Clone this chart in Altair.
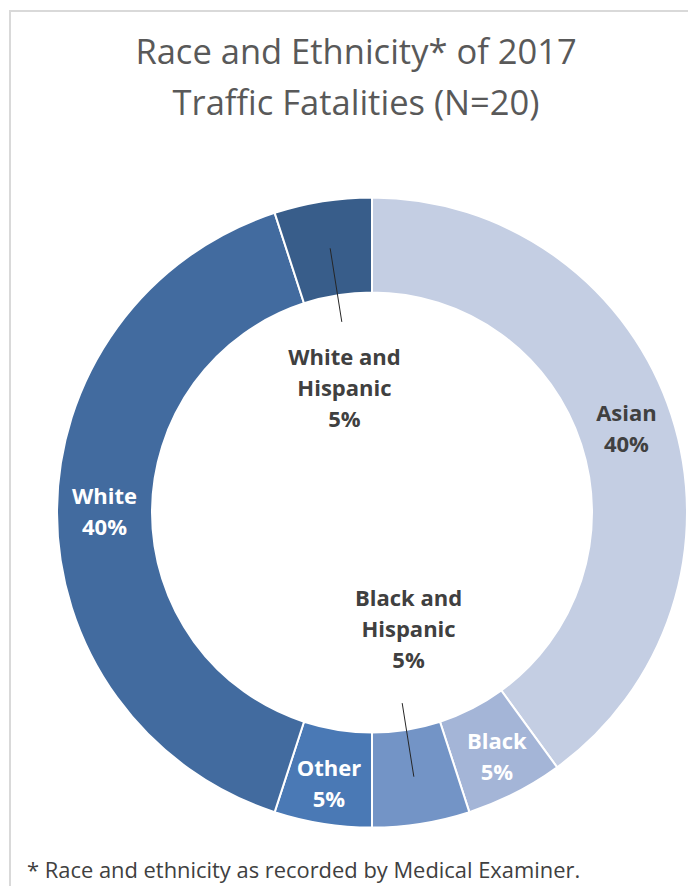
import altair as alt
import pandas as pd

# ---- data ----
races = ["Asian", "Black", "Black and Hispanic", "Other", "White", "White and Hispanic"]
counts = [8, 1, 1, 1, 8, 1]
colors = ["#c4cee3", "#a4b5d7", "#7394c6", "#4a79b5", "#426b9f", "#385d8a"]
title_lines = ["Race and Ethnicity* of 2017", "Traffic Fatalities (N=20)"]
footnote = "* Race and ethnicity as recorded by Medical Examiner."

df = pd.DataFrame({"race": races, "count": counts, "idx": list(range(len(races)))})

FONT = "Open Sans"
CX, CY = 364, 504.5
R_IN, R_OUT = 220, 315
LH = 31

base = alt.Chart(df).transform_joinaggregate(total="sum(count)").transform_calculate(
    label="split(replace(datum.race, ' and ', ' and|') + '|' + format(datum.count / datum.total, '.0%'), '|')"
)
theta = alt.Theta("count:Q", stack=True)
order = alt.Order("idx:Q", sort="ascending")

arcs = base.mark_arc(innerRadius=R_IN, outerRadius=R_OUT, stroke="white", strokeWidth=2).encode(
    theta=theta,
    order=order,
    color=alt.Color("race:N", scale=alt.Scale(domain=races, range=colors), legend=None),
    x=alt.value(CX),
    y=alt.value(CY),
)


def label_layer(names, radius, color, nlines, dx=0, dy=0):
    test = " || ".join(f"datum.race === '{n}'" for n in names)
    return base.transform_calculate(txt=f"({test}) ? datum.label : ''").mark_text(
        radius=radius, font=FONT, fontSize=22, fontWeight="bold", color=color,
        lineHeight=LH, baseline="middle", align="center",
        dx=dx, dy=dy - (nlines - 1) * LH / 2,
    ).encode(
        theta=theta, order=order, detail="race:N",
        text=alt.Text("txt:N"), x=alt.value(CX), y=alt.value(CY),
    )


lab_asian = label_layer(["Asian"], 267.5, "#404040", 2)
lab_white = label_layer(["White"], 267.5, "white", 2)
lab_small = label_layer(["Black", "Other"], 275, "white", 2)
lab_wh = label_layer(["White and Hispanic"], 125, "#404040", 3, dx=-8)
lab_bh = label_layer(["Black and Hispanic"], 125, "#404040", 3, dx=17, dy=-6)

R1, R2 = 193, 267.5
leaders = base.transform_window(
    cum="sum(count)", sort=[alt.SortField("idx", order="ascending")]
).transform_filter(
    "datum.race === 'White and Hispanic' || datum.race === 'Black and Hispanic'"
).transform_calculate(
    mid="2 * PI * (datum.cum - datum.count / 2) / datum.total"
).transform_calculate(
    lx1=f"{CX} + {R1} * sin(datum.mid)",
    ly1=f"{CY} - {R1} * cos(datum.mid)",
    lx2=f"{CX} + {R2} * sin(datum.mid)",
    ly2=f"{CY} - {R2} * cos(datum.mid)",
).mark_rule(color="#262626", strokeWidth=1).encode(
    x=alt.X("lx1:Q", scale=None, axis=None),
    y=alt.Y("ly1:Q", scale=None, axis=None),
    x2="lx2:Q",
    y2="ly2:Q",
)

one = alt.Data(values=[{}])
frame_left = alt.Chart(one).mark_rule(color="#d9d9d9", strokeWidth=2).encode(
    x=alt.value(2), y=alt.value(2), y2=alt.value(890)
)
frame_top = alt.Chart(one).mark_rule(color="#d9d9d9", strokeWidth=2).encode(
    x=alt.value(1), x2=alt.value(690), y=alt.value(3)
)

title = alt.Chart(one).mark_text(
    font=FONT, fontSize=34.5, color="#595959", align="center", baseline="alphabetic", lineHeight=51
).encode(x=alt.value(348), y=alt.value(56), text=alt.value(title_lines))

foot = alt.Chart(one).mark_text(
    font=FONT, fontSize=21.9, color="#404040", align="left", baseline="alphabetic"
).encode(x=alt.value(19), y=alt.value(870), text=alt.value(footnote))

chart = alt.layer(
    frame_left, frame_top, arcs, leaders, lab_asian, lab_white, lab_small, lab_wh, lab_bh, title, foot
).properties(
    width=680, height=878, autosize=alt.AutoSizeParams(type="none"), padding=0
).configure_view(stroke=None)

chart.save("out.html", embed_options={"renderer": "svg", "actions": False})
